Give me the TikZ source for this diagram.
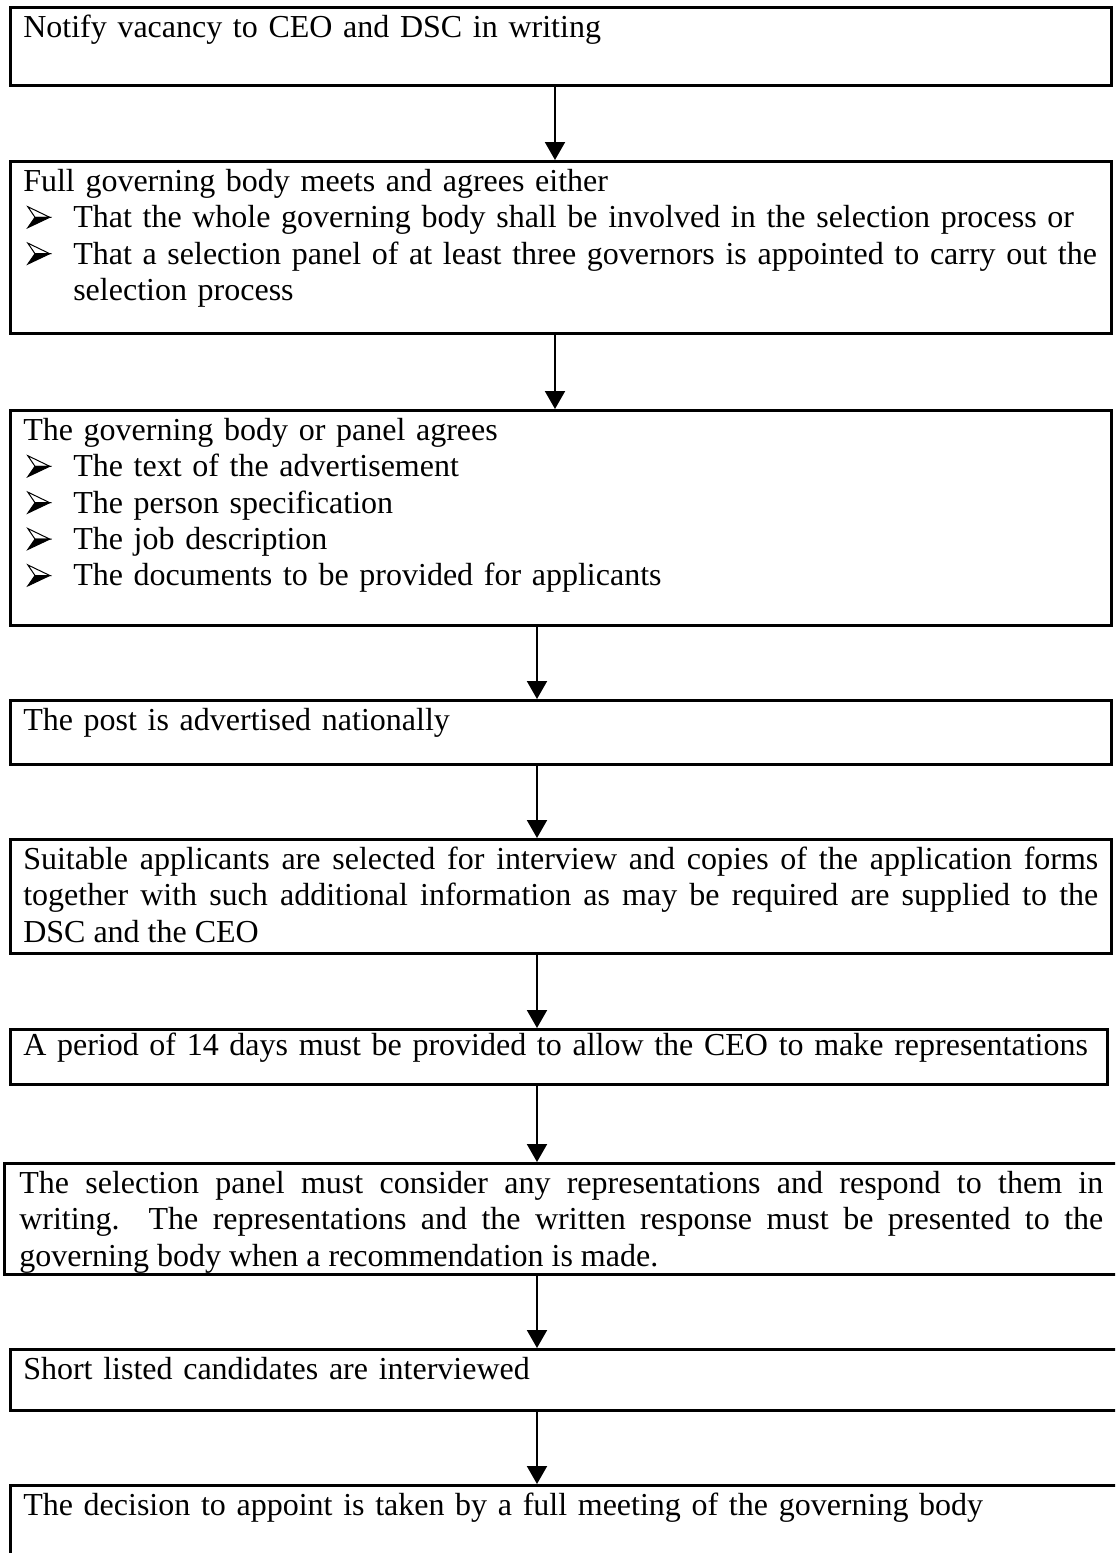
\documentclass[tikz,border=0pt]{standalone}
\usepackage{fontspec}
\setmainfont{Liberation Serif}
\usetikzlibrary{arrows.meta}

% arrowhead bullet, upper half open, lower half solid
\newcommand{\pointerglyph}{\tikz[baseline=0pt, x=1pt, y=1pt, line width=0.5pt, line join=miter]{
    \filldraw[fill=white] (0,10.5) -- (11,5.2) -- (3.6,5.2) -- cycle;
    \filldraw[fill=black] (0,0) -- (11,5.2) -- (3.6,5.2) -- cycle;}}
\newcommand{\pointer}{\par\noindent\makebox[25pt][l]{\hspace{2pt}\pointerglyph}}
\newcommand{\carryon}{\par\noindent\hspace*{25pt}}

\begin{document}
\begin{tikzpicture}[x=0.5pt, y=-0.5pt,
    stepbox/.style={draw, line width=1.3pt, anchor=north west, align=left,
      inner xsep=6.5pt, inner ysep=0pt, text width=537.5pt, text height=15pt,
      font=\fontsize{16pt}{18.2pt}\selectfont},
    flow/.style={-{Triangle[length=9pt,width=10pt]}, line width=1pt}]
    \useasboundingbox (0,0) rectangle (1115,1553);
    \clip (0,0) rectangle (1115,1553);

    \coordinate (upper) at (555,0);
    \coordinate (lower) at (537,0);

    \node[stepbox, text depth=24pt] (notify) at (9,6)
        {Notify vacancy to CEO and DSC in writing};
    \node[stepbox, text depth=71pt] (decide) at (9,160)
        {Full governing body meets and agrees either
         \pointer That the whole governing body shall be involved in the selection process or
         \pointer That a selection panel of at least three governors is appointed to carry out the
         \carryon selection process};
    \node[stepbox, text depth=92.5pt] (agree) at (9,409)
        {The governing body or panel agrees
         \pointer The text of the advertisement
         \pointer The person specification
         \pointer The job description
         \pointer The documents to be provided for applicants};
    \node[stepbox, text depth=17pt] (advertise) at (9,699)
        {The post is advertised nationally};
    \node[stepbox, align=justify, text depth=42pt] (select) at (9,838)
        {Suitable applicants are selected for interview and copies of the application forms\linebreak
         together with such additional information as may be required are supplied to the\linebreak
         DSC and the CEO};
    \node[stepbox, text width=535.5pt, text height=13pt, text depth=14.5pt] (period) at (9,1028)
        {A period of 14 days must be provided to allow the CEO to make representations};
    \node[stepbox, align=justify, inner xsep=7.5pt, text width=542pt, text depth=40.5pt] (respond) at (3,1162)
        {The selection panel must consider any representations and respond to them in\linebreak
         writing.\ \ The representations and the written response must be presented to the\linebreak
         governing body when a recommendation is made.};
    \node[stepbox, text width=545pt, text depth=15.5pt] (interview) at (9,1348)
        {Short listed candidates are interviewed};
    \node[stepbox, text width=545pt, text depth=60pt] (appoint) at (9,1484)
        {The decision to appoint is taken by a full meeting of the governing body};

    \draw[flow] (notify.south -| upper) -- (decide.north -| upper);
    \draw[flow] (decide.south -| upper) -- (agree.north -| upper);
    \draw[flow] (agree.south -| lower) -- (advertise.north -| lower);
    \draw[flow] (advertise.south -| lower) -- (select.north -| lower);
    \draw[flow] (select.south -| lower) -- (period.north -| lower);
    \draw[flow] (period.south -| lower) -- (respond.north -| lower);
    \draw[flow] (respond.south -| lower) -- (interview.north -| lower);
    \draw[flow] (interview.south -| lower) -- (appoint.north -| lower);
\end{tikzpicture}
\end{document}
